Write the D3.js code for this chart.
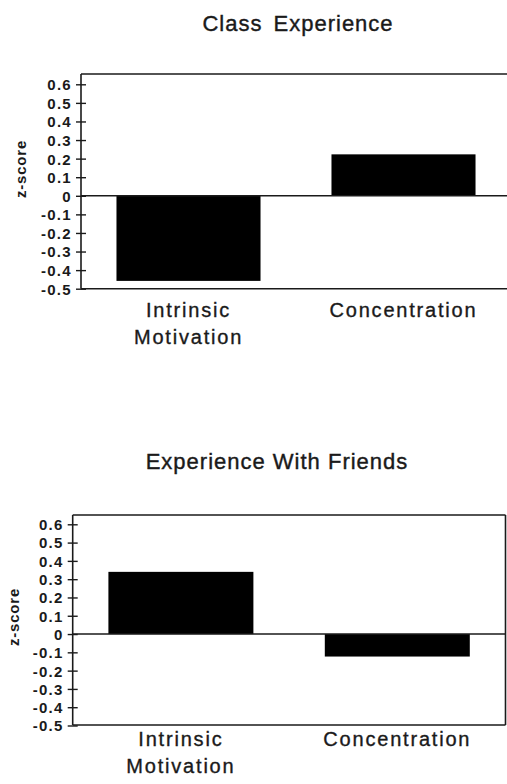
<!DOCTYPE html>
<html>
<head>
<meta charset="utf-8">
<script src="https://cdn.jsdelivr.net/npm/d3@7"></script>
<style>
  body { margin: 0; background: #fff; }
  svg { display: block; font-family: "Liberation Sans", Arial, Helvetica, sans-serif; }
</style>
</head>
<body>
<svg id="chart"></svg>
<script>
const categories = ["Intrinsic Motivation", "Concentration"];
const categoryLines = [["Intrinsic", "Motivation"], ["Concentration"]];
const classValues = [-0.458, 0.223];
const friendsValues = [0.34, -0.123];
const yTicks = [0.6, 0.5, 0.4, 0.3, 0.2, 0.1, 0, -0.1, -0.2, -0.3, -0.4, -0.5];
const titles = ["Class Experience", "Experience With Friends"];
const yLabel = "z-score";

const W = 507, H = 784;
const ink = "#1a1a1a";

const svg = d3.select("#chart")
  .attr("width", W)
  .attr("height", H);

// panel layouts (pixels)
const panels = [
  { title: titles[0], values: classValues, left: 81, right: 511, top: 74, bottom: 288.7,
    yTop: 84.3, yBottom: 288.7, titleX: 298, titleY: 31, wordGap: 4, labelY: 317,
    zx: 26, zy: 169, rightBorder: false },
  { title: titles[1], values: friendsValues, left: 72.7, right: 505.5, top: 515, bottom: 725,
    yTop: 524.3, yBottom: 725.5, titleX: 277, titleY: 469, wordGap: 0, labelY: 746,
    zx: 19, zy: 617, rightBorder: true }
];

panels.forEach(p => {
  const g = svg.append("g");

  const x = d3.scaleBand()
    .domain(categories)
    .range([p.left, p.right])
    .paddingInner(0.33)
    .paddingOuter(0.165);

  const y = d3.scaleLinear()
    .domain([-0.5, 0.6])
    .range([p.yBottom, p.yTop]);

  // title
  g.append("text")
    .attr("x", p.titleX)
    .attr("y", p.titleY)
    .attr("text-anchor", "middle")
    .style("font-size", "22px")
    .style("letter-spacing", "1px")
    .style("word-spacing", p.wordGap + "px")
    .attr("fill", ink)
    .attr("stroke", ink)
    .attr("stroke-width", 0.4)
    .text(p.title);

  // bars
  g.selectAll("rect.bar")
    .data(p.values)
    .enter()
    .append("rect")
    .attr("class", "bar")
    .attr("x", (d, i) => x(categories[i]))
    .attr("width", x.bandwidth())
    .attr("y", d => y(Math.max(0, d)))
    .attr("height", d => Math.abs(y(d) - y(0)))
    .attr("fill", "#000");

  // frame lines
  const frame = g.append("g")
    .attr("stroke", ink)
    .attr("stroke-width", 1.6)
    .attr("fill", "none");
  frame.append("line").attr("x1", p.left).attr("x2", p.right).attr("y1", p.top).attr("y2", p.top);
  frame.append("line").attr("x1", p.left).attr("x2", p.right).attr("y1", p.bottom).attr("y2", p.bottom);
  frame.append("line").attr("x1", p.left).attr("x2", p.right).attr("y1", y(0)).attr("y2", y(0));
  frame.append("line").attr("x1", p.left).attr("x2", p.left).attr("y1", p.top).attr("y2", p.bottom);
  if (p.rightBorder) {
    frame.append("line").attr("x1", p.right).attr("x2", p.right).attr("y1", p.top).attr("y2", p.bottom);
  }

  // y axis
  const axis = g.append("g")
    .attr("transform", `translate(${p.left},0)`)
    .call(d3.axisLeft(y)
      .tickValues(yTicks)
      .tickSize(5)
      .tickPadding(4)
      .tickFormat(d => d === 0 ? "0" : d.toFixed(1)));
  axis.select(".domain").remove();
  axis.selectAll(".tick line")
    .attr("x1", 5)
    .attr("stroke", ink)
    .attr("stroke-width", 1.4);
  axis.selectAll(".tick text")
    .attr("fill", ink)
    .style("font-size", "15px")
    .style("font-weight", "bold")
    .style("letter-spacing", "1.3px")
    .attr("dy", "0.36em");

  // y label
  g.append("text")
    .attr("transform", `translate(${p.zx},${p.zy}) rotate(-90)`)
    .attr("text-anchor", "middle")
    .style("font-size", "15px")
    .style("font-weight", "bold")
    .style("letter-spacing", "0.8px")
    .attr("fill", ink)
    .text(yLabel);

  // category labels
  categories.forEach((c, i) => {
    const t = g.append("text")
      .attr("x", x(c) + x.bandwidth() / 2)
      .attr("y", p.labelY)
      .attr("text-anchor", "middle")
      .style("font-size", "20px")
      .style("letter-spacing", "1.8px")
      .attr("fill", ink)
      .attr("stroke", ink)
      .attr("stroke-width", 0.35);
    categoryLines[i].forEach((line, j) => {
      t.append("tspan")
        .attr("x", x(c) + x.bandwidth() / 2)
        .attr("dy", j === 0 ? 0 : 27)
        .text(line);
    });
  });
});
</script>
</body>
</html>
